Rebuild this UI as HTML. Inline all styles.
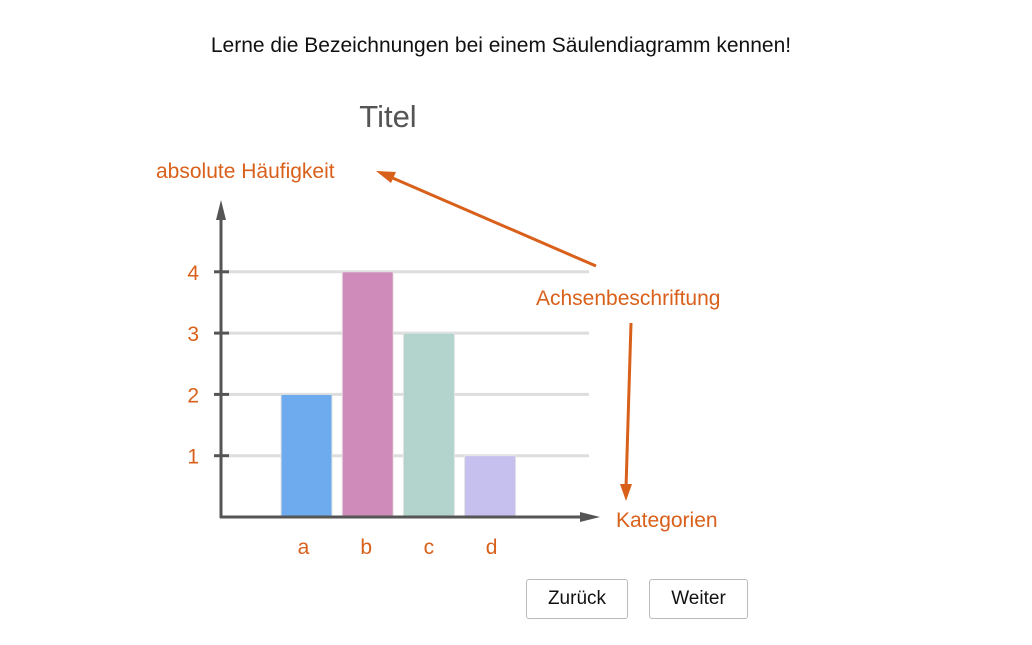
<!DOCTYPE html>
<html><head><meta charset="utf-8"><style>
body{margin:0;background:#fff;width:1032px;height:645px;overflow:hidden;font-family:"Liberation Sans",sans-serif}
.btn{position:absolute;top:579px;height:38px;border:1px solid #bbb;border-radius:3px;background:#fff;font-size:19px;line-height:38px;text-align:center;color:#111}
</style></head><body>
<div style="position:absolute;left:0;width:1002px;top:34px;text-align:center;font-size:21px;color:#111">Lerne die Bezeichnungen bei einem Säulendiagramm kennen!</div>
<svg width="1032" height="645" style="position:absolute;left:0;top:0">
<text x="388" y="127" font-size="31" fill="#555" text-anchor="middle">Titel</text>
<text x="156" y="178" font-size="21" fill="#d9601a">absolute Häufigkeit</text>
<text x="536" y="305" font-size="21" fill="#d9601a">Achsenbeschriftung</text>
<text x="616" y="527" font-size="21" fill="#d9601a">Kategorien</text>
<g id="grid"></g><g id="bars"></g><g id="ticks"></g>
<line x1="221" y1="518" x2="221" y2="215" stroke="#555" stroke-width="3"/>
<polygon points="221,200 216,220 226,220" fill="#555"/>
<line x1="220" y1="517" x2="585" y2="517" stroke="#555" stroke-width="3"/>
<polygon points="600,517 580,512 580,522" fill="#555"/>
<line x1="596" y1="266" x2="388" y2="176" stroke="#d9601a" stroke-width="3"/>
<polygon points="376,171 396,172 391,183" fill="#d9601a"/>
<line x1="631" y1="323" x2="626" y2="488" stroke="#d9601a" stroke-width="3"/>
<polygon points="626,501 620,484 632,484" fill="#d9601a"/>
</svg>
<div class="btn" style="left:526px;width:100px">Zurück</div>
<div class="btn" style="left:649px;width:97px">Weiter</div>
<script>
const categories=["a","b","c","d"];
const values=[2,4,3,1];
const yTicks=[1,2,3,4];
const colors=["#6eaaee","#cf8cba","#b3d3cd","#c6c0ee"];
const NS="http://www.w3.org/2000/svg";
const y0=517,unit=61.3;
function yS(v){return y0-v*unit;}
function xS(i){return 306.5+i*61.2;}
const grid=document.getElementById("grid"),bars=document.getElementById("bars"),ticks=document.getElementById("ticks");
function mk(tag,attrs,parent){const e=document.createElementNS(NS,tag);for(const k in attrs)e.setAttribute(k,attrs[k]);parent.appendChild(e);return e;}
yTicks.forEach(t=>{
 const g=mk("line",{x1:228,x2:589,y1:yS(t),y2:yS(t),stroke:"#ddd","stroke-width":3},grid);
 
 
 const tk=mk("line",{x1:214,x2:229,y1:yS(t),y2:yS(t),stroke:"#555","stroke-width":3},ticks);
 
 
 const tl=mk("text",{x:199,y:yS(t)+8,"font-size":21,fill:"#d9601a","text-anchor":"end"},ticks);
 tl.textContent=t;
 
 
});
categories.forEach((c,i)=>{
 const r=mk("rect",{x:xS(i)-25.5,y:yS(values[i]),width:51,height:values[i]*unit,fill:colors[i],stroke:"#e4e4e4","stroke-width":1},bars);
 
 
 const l=mk("text",{x:xS(i)-3+i*1.5,y:554,"font-size":21,fill:"#d9601a","text-anchor":"middle"},ticks);
 l.textContent=c;
 
 
});
</script>
</body></html>
